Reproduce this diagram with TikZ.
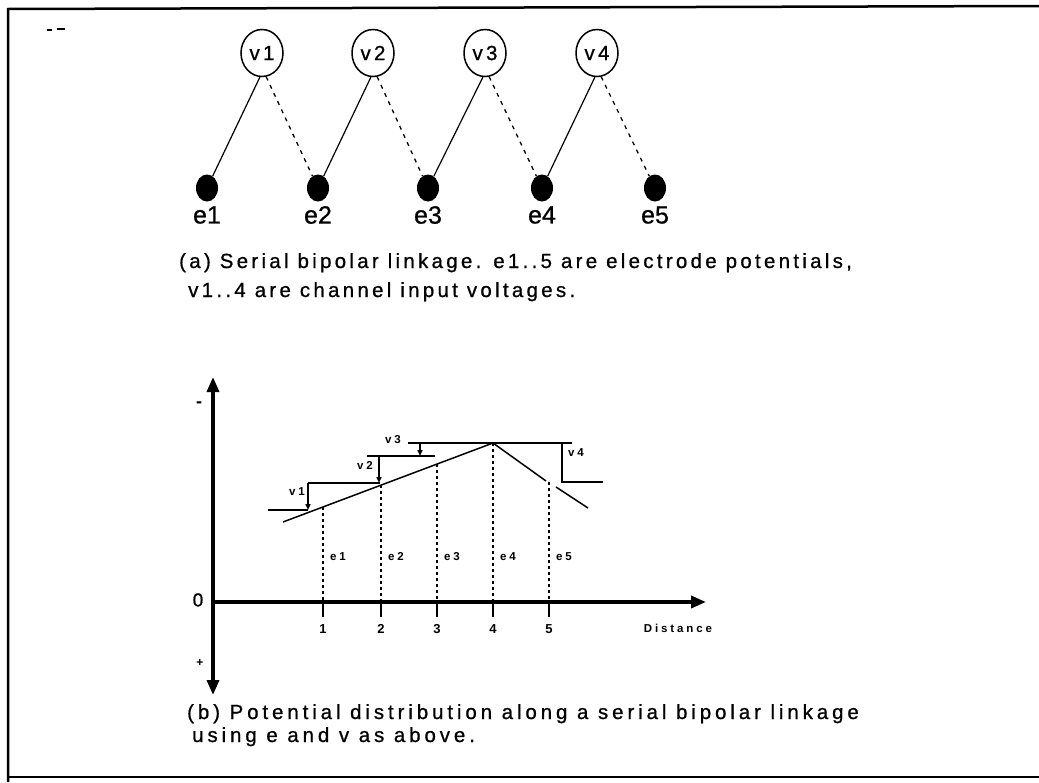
\documentclass[tikz,border=0pt]{standalone}
\usepackage{fontspec}
\setmainfont{Liberation Sans}
\newfontfamily\capfont[LetterSpace=16,FakeBold=0.8]{Liberation Sans}
\newfontfamily\capbfont[LetterSpace=19,FakeBold=0.8]{Liberation Sans}
\newfontfamily\labfont[FakeBold=0.8]{Liberation Sans}
\newfontfamily\axfont[LetterSpace=25]{Liberation Sans}
\usetikzlibrary{arrows.meta,shapes.geometric}
\tikzset{
  chan/.style={draw,ellipse,line width=1.5pt,minimum width=42pt,minimum height=47pt,inner sep=0pt,font=\capfont\fontsize{20.5}{24}\selectfont},
  elec/.style={fill,ellipse,minimum width=22pt,minimum height=27pt,inner sep=0pt},
  elab/.style={font=\labfont\fontsize{25}{28}\selectfont},
  link/.style={line width=1.2pt},
  dlink/.style={line width=1.3pt,dash pattern=on 4pt off 5pt},
  axis/.style={line width=3.5pt},
  tick/.style={font=\axfont\bfseries\fontsize{11.5}{13}\selectfont},
  vdot/.style={line width=1.6pt,dash pattern=on 3pt off 3pt},
  caption/.style={anchor=base west,inner sep=0pt,font=\capfont\fontsize{20.5}{24}\selectfont}
}
\begin{document}
\begin{tikzpicture}[x=1pt,y=-1pt]
\useasboundingbox (0,0) rectangle (1039,782);
% frame
\draw[line width=2.5pt] (1039,6) -- (8,9) -- (8,782);
\draw[line width=2.5pt] (8,777) -- (1039,777);
\draw[line width=1.5pt] (47,30) -- (52,30) (57,29) -- (65,29);
% (a) serial linkage
\foreach \i/\x in {1/262,2/373,3/485,4/597} \node[chan] (v\i) at (\x,53) {v\i};
\foreach \i/\x in {1/207,2/318,3/428,4/542,5/655} {
  \node[elec] (e\i) at (\x,188) {};
  \node[elab] (le\i) at (\x,215) {e\i};
}
\foreach \i/\j in {1/2,2/3,3/4,4/5} {
  \draw[link] (v\i.-95) -- (e\i);
  \draw[dlink] (v\i.-80) -- (e\j);
}
\node[caption] (capa1) at (179,268) {(a) Serial bipolar linkage. e1..5 are electrode potentials,};
\node[caption] (capa2) at (188,297) {v1..4 are channel input voltages.};
% (b) potential distribution
\draw[axis,{Triangle[length=15pt,width=12pt]}-{Triangle[length=15pt,width=12pt]}] (213,695) -- (213,377);
\draw[axis,-{Triangle[length=15pt,width=12pt]}] (211,602) -- (706,602);
\node[font=\labfont\fontsize{19}{22}\selectfont] (zero) at (198,600) {0};
\node[font=\bfseries\fontsize{18}{20}\selectfont] (minus) at (199,405) {-};
\node[font=\bfseries\fontsize{12}{14}\selectfont] (plus) at (200,663) {+};
\node[tick] (dist) at (678,628) {Distance};
\foreach \n/\x in {1/323,2/381,3/437,4/493,5/549} {
  \draw[line width=2.5pt] (\x,602) -- (\x,617);
  \node[tick,font=\bfseries\fontsize{13}{15}\selectfont] (t\n) at (\x,629) {\n};
}
% potential line
\draw[line width=1.5pt] (283,522) -- (493,443) -- (546,481);
\draw[line width=1.5pt] (556,487) -- (588,508);
\foreach \i/\x/\y in {1/323/507,2/381/485,3/437/464,4/493/443,5/549/482} {
  \draw[vdot] (\x,\y) -- (\x,602);
  \node[tick] (pe\i) at (\x+15,557) {e\i};
}
% channel steps
\draw[line width=1.5pt] (268,510) -- (308,510) (308,483) -- (380,483)
  (367,456) -- (435,456) (408,443) -- (572,443) (562,443) -- (562,482) -- (603,482);
\foreach \x/\a/\b in {308/483/510,379/456/483,420/443/456}
  \draw[line width=1.5pt,-{Triangle[length=6pt,width=5pt]}] (\x,\a) -- (\x,\b);
\foreach \i/\x/\y in {1/297/492,2/365/465,3/393/440,4/576/453}
  \node[tick] (pv\i) at (\x,\y) {v\i};
\node[caption,font=\capbfont\fontsize{20.5}{24}\selectfont] (capb1) at (187,719) {(b) Potential distribution along a serial bipolar linkage};
\node[caption,font=\capbfont\fontsize{20.5}{24}\selectfont] (capb2) at (192,742) {using e and v as above.};
\end{tikzpicture}
\end{document}
